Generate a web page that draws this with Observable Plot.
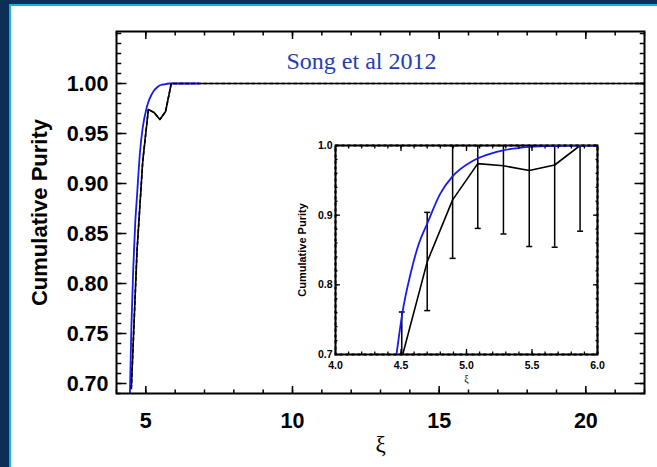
<!DOCTYPE html>
<html><head><meta charset="utf-8">
<script src="https://cdn.jsdelivr.net/npm/d3@7"></script>
<script src="https://cdn.jsdelivr.net/npm/@observablehq/plot@0.6"></script>
<style>
html,body{margin:0;padding:0;background:#0b2f56;}
#wrap{position:relative;width:657px;height:467px;background:#0b2f56;overflow:hidden;}
#panel{position:absolute;left:9px;top:4px;right:0;bottom:0;background:#fff;border-left:2px solid #1cb0de;border-top:2px solid #1cb0de;}
#main,#inset{position:absolute;}
#main{left:0;top:0;}
#inset{left:290px;top:130px;}
</style></head><body>
<div id="wrap"><div id="panel"></div><div id="main"></div><div id="inset"></div></div>
<script>
// ---- data ----
const blueXi = [4.43, 4.466, 4.509, 4.573, 4.636, 4.70, 4.80, 4.89, 5.03, 5.08, 5.18, 5.28, 5.38, 5.47, 5.6, 5.8, 6.8];
const blueP  = [0.655, 0.701, 0.758, 0.816, 0.859, 0.888, 0.931, 0.955, 0.976, 0.981, 0.988, 0.993, 0.996, 0.998, 0.999, 1.0, 1.0];
const blackXi = [4.506, 4.70, 4.894, 5.086, 5.282, 5.479, 5.673, 5.867, 22];
const blackP  = [0.695, 0.833, 0.922, 0.974, 0.971, 0.964, 0.972, 1.0, 1.0];
const errXi = [4.506, 4.70, 4.894, 5.086, 5.282, 5.479, 5.673, 5.867];
const errLo = [0.63, 0.763, 0.838, 0.881, 0.873, 0.855, 0.854, 0.877];
const errHi = [0.761, 0.904, 1.0, 1.0, 1.0, 1.0, 1.0, 1.0];

const mainXTicks = [5, 10, 15, 20];
const mainXMinor = d3.range(4, 22.5, 1);
const mainYTicks = [0.70, 0.75, 0.80, 0.85, 0.90, 0.95, 1.00];
const mainYMinor = d3.range(0.69, 1.0505, 0.01);
const insetXTicks = [4.0, 4.5, 5.0, 5.5, 6.0];
const insetXMinor = d3.range(4.0, 6.05, 0.1);
const insetYTicks = [0.7, 0.8, 0.9, 1.0];
const insetYMinor = d3.range(0.7, 1.005, 0.02);

const titleText = "Song et al 2012";
const yLabel = "Cumulative Purity";
const xLabel = "ξ";

// ---- tables ----
const blue = blueXi.map((x, i) => ({x, y: blueP[i]}));
const black = blackXi.map((x, i) => ({x, y: blackP[i]}));
const err = errXi.map((x, i) => ({x, lo: errLo[i], hi: errHi[i]}));

const BLUE = "#1a1aef";
const SANS = "'Liberation Sans', Arial, Helvetica, sans-serif";
const SERIF = "'Liberation Serif', 'Times New Roman', serif";

function tickMarks(xMaj, xMin, yMaj, yMin, xl, yl, sw) {
  const t = {stroke: "#000", strokeWidth: sw, fill: "none", label: null};
  return [
    Plot.axisX({...t, anchor: "bottom", ticks: xMin, tickSize: -xl / 2}),
    Plot.axisX({...t, anchor: "top", ticks: xMin, tickSize: -xl / 2}),
    Plot.axisX({...t, anchor: "bottom", ticks: xMaj, tickSize: -xl}),
    Plot.axisX({...t, anchor: "top", ticks: xMaj, tickSize: -xl}),
    Plot.axisY({...t, anchor: "left", ticks: yMin, tickSize: -yl / 2}),
    Plot.axisY({...t, anchor: "right", ticks: yMin, tickSize: -yl / 2}),
    Plot.axisY({...t, anchor: "left", ticks: yMaj, tickSize: -yl}),
    Plot.axisY({...t, anchor: "right", ticks: yMaj, tickSize: -yl})
  ];
}

const capSymbol = {draw(ctx, size) { const w = Math.sqrt(size / Math.PI); ctx.moveTo(-w, 0); ctx.lineTo(w, 0); }};

// ---- main chart ----
const main = Plot.plot({
  width: 657, height: 467,
  marginLeft: 116, marginRight: 13, marginTop: 31, marginBottom: 74,
  x: {domain: [4, 22]},
  y: {domain: [0.69, 1.052]},
  style: {background: "transparent", fontFamily: SANS, fontSize: "21.5px", fontWeight: "bold", color: "#000"},
  marks: [
    Plot.line(black, {x: "x", y: "y", stroke: "#000", strokeWidth: 1.6, clip: true}),
    Plot.line(blue, {x: "x", y: "y", stroke: BLUE, strokeWidth: 1.8, curve: "monotone-x", clip: true}),
    Plot.line(black, {x: "x", y: "y", stroke: "#000", strokeWidth: 1.6, strokeDasharray: "3,3", clip: true}),
    Plot.frame({stroke: "#000", strokeWidth: 2}),
    ...tickMarks(mainXTicks, mainXMinor, mainYTicks, mainYMinor, 7, 10.5, 1.5),
    Plot.axisX({anchor: "bottom", ticks: mainXTicks, tickSize: 0, tickPadding: 19, tickFormat: d3.format("d"), label: null}),
    Plot.axisY({anchor: "left", ticks: mainYTicks, tickSize: 0, tickPadding: 8, dy: 1, tickFormat: d3.format(".2f"), label: null}),
    Plot.text([titleText], {text: d => d, frameAnchor: "top", dx: -19, dy: 30, lineAnchor: "middle", fill: "#2140b0", fontFamily: SERIF, fontSize: 24, fontWeight: "normal"}),
    Plot.text([yLabel], {text: d => d, frameAnchor: "left", dx: -77, rotate: -90, textAnchor: "middle", lineAnchor: "middle", fontSize: 22}),
    Plot.text([xLabel], {text: d => d, frameAnchor: "bottom", dy: 51.5, lineAnchor: "middle", fontFamily: SERIF, fontSize: 23, fontWeight: "normal"})
  ]
});
document.getElementById("main").append(main);

// ---- inset ----
const inset = Plot.plot({
  width: 320, height: 260,
  marginLeft: 45, marginRight: 13, marginTop: 15, marginBottom: 36,
  x: {domain: [4, 6]},
  y: {domain: [0.7, 1.0]},
  style: {background: "transparent", fontFamily: SANS, fontSize: "10.5px", fontWeight: "bold", color: "#000"},
  marks: [
    Plot.frame({stroke: "#000", strokeWidth: 2}),
    Plot.ruleX(err, {x: "x", y1: "lo", y2: "hi", stroke: "#000", strokeWidth: 1.5, clip: true}),
    Plot.dot(err, {x: "x", y: "lo", symbol: capSymbol, r: 3, stroke: "#000", strokeWidth: 1.5, fill: "none", clip: true}),
    Plot.dot(err, {x: "x", y: "hi", symbol: capSymbol, r: 3, stroke: "#000", strokeWidth: 1.5, fill: "none", clip: true}),
    Plot.line(black, {x: "x", y: "y", stroke: "#000", strokeWidth: 1.6, clip: true}),
    Plot.line(blue, {x: "x", y: "y", stroke: BLUE, strokeWidth: 1.8, curve: "monotone-x", clip: true}),
    Plot.frame({stroke: "#000", strokeWidth: 2, strokeDasharray: "3,3"}),
    ...tickMarks(insetXTicks, insetXMinor, insetYTicks, insetYMinor, 5, 5, 1.3),
    Plot.axisX({anchor: "bottom", ticks: insetXTicks, tickSize: 0, tickPadding: 7.5, tickFormat: d3.format(".1f"), label: null}),
    Plot.axisY({anchor: "left", ticks: insetYTicks, tickSize: 0, tickPadding: 3, tickFormat: d3.format(".1f"), label: null}),
    Plot.text([yLabel], {text: d => d, frameAnchor: "left", dx: -33, rotate: -90, textAnchor: "middle", lineAnchor: "middle", fontSize: 11}),
    Plot.text([xLabel], {text: d => d, frameAnchor: "bottom", dy: 24, lineAnchor: "middle", fontFamily: SERIF, fontSize: 10, fontWeight: "normal"})
  ]
});
document.getElementById("inset").append(inset);
</script>
</body></html>
